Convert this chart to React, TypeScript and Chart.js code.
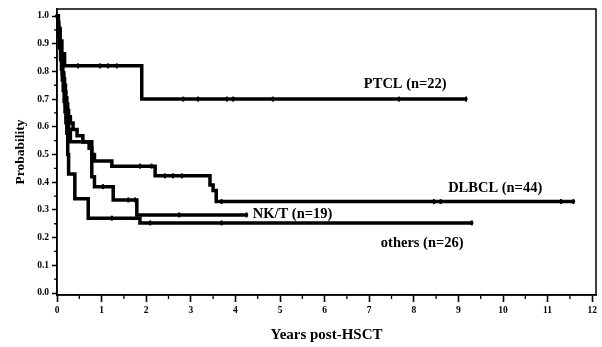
import React, { useEffect, useRef } from "react";
import { Chart, registerables } from "chart.js";

Chart.register(...registerables);

// ---- Data (Kaplan-Meier step curves: event times and survival after each step) ----
const ptclTimes = [0, 0.03, 0.07, 0.11, 0.17, 1.9, 9.17];
const ptclSurv = [1.0, 0.955, 0.91, 0.864, 0.82, 0.70, 0.70];
const ptclCensor = [0.47, 0.96, 1.14, 1.34, 2.83, 3.16, 3.81, 3.95, 4.84, 7.67, 9.17];

const dlbclTimes = [0, 0.02, 0.04, 0.05, 0.06, 0.08, 0.09, 0.1, 0.12, 0.13, 0.15, 0.17, 0.19, 0.2, 0.22, 0.24, 0.26, 0.3, 0.36, 0.45, 0.58, 0.72, 0.78, 0.84, 1.23, 2.2, 3.43, 3.5, 3.57, 11.58];
const dlbclSurv = [1.0, 0.977, 0.955, 0.932, 0.909, 0.886, 0.864, 0.841, 0.818, 0.795, 0.773, 0.75, 0.727, 0.705, 0.682, 0.659, 0.636, 0.614, 0.59, 0.568, 0.545, 0.523, 0.5, 0.477, 0.458, 0.423, 0.39, 0.37, 0.33, 0.33];
const dlbclCensor = [1.86, 2.12, 2.42, 2.6, 2.8, 3.69, 8.45, 8.6, 11.3, 11.58];

const nktTimes = [0, 0.03, 0.06, 0.09, 0.12, 0.15, 0.18, 0.21, 0.26, 0.3, 0.78, 0.84, 1.26, 1.79, 4.25];
const nktSurv = [1.0, 0.947, 0.895, 0.842, 0.789, 0.737, 0.684, 0.632, 0.59, 0.546, 0.42, 0.384, 0.336, 0.282, 0.282];
const nktCensor = [1.03, 1.6, 1.75, 2.74, 4.25];

const othersTimes = [0, 0.02, 0.04, 0.06, 0.08, 0.1, 0.12, 0.14, 0.16, 0.18, 0.2, 0.22, 0.24, 0.26, 0.4, 0.7, 1.86, 9.3];
const othersSurv = [1.0, 0.962, 0.923, 0.885, 0.846, 0.808, 0.769, 0.731, 0.692, 0.654, 0.615, 0.577, 0.5, 0.43, 0.34, 0.27, 0.253, 0.253];
const othersCensor = [1.23, 2.09, 3.69, 9.3];

const seriesNames = ["PTCL (n=22)", "DLBCL (n=44)", "NK/T (n=19)", "others (n=26)"];

const xMajorTicks = [0, 1, 2, 3, 4, 5, 6, 7, 8, 9, 10, 11, 12];
const xMinorTicks = [0.5, 1.5, 2.5, 3.5, 4.5, 5.5, 6.5, 7.5, 8.5, 9.5, 10.5, 11.5];
const yMajorTicks = [0, 0.1, 0.2, 0.3, 0.4, 0.5, 0.6, 0.7, 0.8, 0.9, 1.0];
const yMinorTicks = [0.05, 0.15, 0.25, 0.35, 0.45, 0.55, 0.65, 0.75, 0.85, 0.95];

// label anchors (data coordinates: left edge / vertical middle)
const labelAnchorX = [6.88, 8.77, 4.39, 7.26];
const labelAnchorY = [0.755, 0.379, 0.283, 0.18];

const SERIF = "'Liberation Serif', 'Times New Roman', serif";

function stepAt(times: number[], surv: number[], t: number) {
  let v = surv[0];
  for (let i = 0; i < times.length; i++) if (times[i] <= t) v = surv[i];
  return v;
}

const curves = [
  { t: ptclTimes, s: ptclSurv, c: ptclCensor },
  { t: dlbclTimes, s: dlbclSurv, c: dlbclCensor },
  { t: nktTimes, s: nktSurv, c: nktCensor },
  { t: othersTimes, s: othersSurv, c: othersCensor },
];

const decorPlugin = {
  id: "decor",
  afterDraw(chart: any) {
    const { ctx, chartArea, scales } = chart;
    const xs = scales.x;
    const ys = scales.y;
    ctx.save();
    ctx.strokeStyle = "#000";
    ctx.lineWidth = 1.5;
    ctx.strokeRect(chartArea.left, chartArea.top, chartArea.right - chartArea.left, chartArea.bottom - chartArea.top);
    ctx.lineWidth = 1.3;
    ctx.beginPath();
    xMinorTicks.forEach((v) => {
      const px = xs.getPixelForValue(v);
      ctx.moveTo(px, chartArea.bottom);
      ctx.lineTo(px, chartArea.bottom + 4);
    });
    yMinorTicks.forEach((v) => {
      const py = ys.getPixelForValue(v);
      ctx.moveTo(chartArea.left - 3, py);
      ctx.lineTo(chartArea.left, py);
    });
    ctx.stroke();
    ctx.fillStyle = "#000";
    ctx.font = `bold 14.5px ${SERIF}`;
    ctx.textAlign = "left";
    ctx.textBaseline = "middle";
    seriesNames.forEach((name, i) => {
      ctx.fillText(name, xs.getPixelForValue(labelAnchorX[i]), ys.getPixelForValue(labelAnchorY[i]));
    });
    ctx.restore();
  },
};

export default function App() {
  const ref = useRef<HTMLCanvasElement>(null);
  useEffect(() => {
    if (!ref.current) return;
    const lineSets = curves.map((c) => ({
      type: "line" as const,
      data: c.t.map((x, i) => ({ x, y: c.s[i] })),
      borderColor: "#000",
      borderWidth: 3.5,
      stepped: true,
      pointRadius: 0,
      fill: false,
      clip: 8,
      borderCapStyle: "round" as const,
    }));
    const censorSets = curves.map((c) => ({
      type: "line" as const,
      data: c.c.map((x) => ({ x, y: stepAt(c.t, c.s, x) })),
      showLine: false,
      pointStyle: "line" as const,
      pointRotation: 90,
      pointRadius: 2.5,
      pointBorderWidth: 2,
      pointBorderColor: "#000",
      pointBackgroundColor: "#000",
      clip: 8,
    }));
    const chart = new Chart(ref.current, {
      type: "line",
      data: { datasets: [...lineSets, ...censorSets] as any },
      options: {
        responsive: false,
        animation: false,
        layout: { padding: { left: 8, right: 6, top: 9, bottom: 1 } },
        plugins: { legend: { display: false }, tooltip: { enabled: false } },
        scales: {
          x: {
            type: "linear",
            min: 0,
            max: 12.085,
            afterBuildTicks: (s: any) => {
              s.ticks = xMajorTicks.map((v) => ({ value: v }));
            },
            afterFit: (s: any) => {
              s.height = 51;
            },
            ticks: {
              color: "#000",
              font: { family: SERIF, size: 9.5, weight: "bold" },
              padding: 3,
              maxRotation: 0,
              autoSkip: false,
              callback: (v: any) => String(v),
            },
            grid: { display: true, drawOnChartArea: false, drawTicks: true, tickLength: 7, color: "#000", tickWidth: 1.6 },
            border: { display: true, color: "#000", width: 1.5 },
            title: {
              display: true,
              text: "Years post-HSCT",
              color: "#000",
              font: { family: SERIF, size: 15, weight: "bold" },
              padding: { top: 2, bottom: 2 },
            },
          },
          y: {
            type: "linear",
            min: -0.0072,
            max: 1.0253,
            afterBuildTicks: (s: any) => {
              s.ticks = yMajorTicks.map((v) => ({ value: v }));
            },
            afterFit: (s: any) => {
              s.width = 49;
            },
            ticks: {
              color: "#000",
              font: { family: SERIF, size: 9.5, weight: "bold" },
              padding: 3,
              autoSkip: false,
              callback: (v: any) => Number(v).toFixed(1),
            },
            grid: { display: true, drawOnChartArea: false, drawTicks: true, tickLength: 5, color: "#000", tickWidth: 1.5 },
            border: { display: true, color: "#000", width: 1.5 },
            title: {
              display: true,
              text: "Probability",
              color: "#000",
              font: { family: SERIF, size: 13.5, weight: "bold" },
              padding: { top: 4, bottom: 4 },
            },
          },
        },
      },
      plugins: [decorPlugin],
    });
    return () => chart.destroy();
  }, []);
  return (
    <div style={{ position: "absolute", left: 0, top: 0, width: 602, height: 347, background: "#fff" }}>
      <canvas ref={ref} width={602} height={347} style={{ display: "block" }} />
    </div>
  );
}
